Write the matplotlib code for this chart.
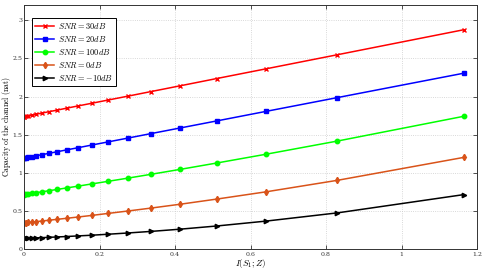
import matplotlib
matplotlib.use("Agg")
import matplotlib.pyplot as plt

plt.rcParams['mathtext.fontset'] = 'cm'
plt.rcParams['font.family'] = ['DejaVu Serif']

x_mi = [0, 0.0013, 0.0050, 0.0114, 0.0204, 0.0323, 0.0472, 0.0653, 0.0872, 0.1131,
        0.1438, 0.1801, 0.2231, 0.2745, 0.3367, 0.4133, 0.5108, 0.6411, 0.8304, 1.1643]

cap_30db = [1.736, 1.737, 1.741, 1.747, 1.756, 1.768, 1.782, 1.800, 1.821, 1.847,
            1.877, 1.912, 1.954, 2.004, 2.065, 2.140, 2.236, 2.363, 2.548, 2.875]
cap_20db = [1.192, 1.193, 1.197, 1.203, 1.212, 1.223, 1.237, 1.254, 1.275, 1.300,
            1.329, 1.364, 1.405, 1.454, 1.514, 1.587, 1.680, 1.805, 1.986, 2.305]
cap_100db = [0.714, 0.715, 0.718, 0.723, 0.729, 0.738, 0.750, 0.764, 0.781, 0.801,
             0.825, 0.854, 0.888, 0.929, 0.980, 1.044, 1.128, 1.243, 1.416, 1.740]
cap_0db = [0.343, 0.344, 0.346, 0.349, 0.353, 0.360, 0.367, 0.377, 0.389, 0.403,
           0.420, 0.441, 0.467, 0.498, 0.537, 0.587, 0.655, 0.750, 0.901, 1.201]
cap_m10db = [0.140, 0.140, 0.141, 0.142, 0.144, 0.146, 0.149, 0.153, 0.158, 0.164,
             0.172, 0.181, 0.194, 0.210, 0.231, 0.260, 0.302, 0.366, 0.474, 0.713]

labels = [r'$SNR=30dB$', r'$SNR=20dB$', r'$SNR=100dB$', r'$SNR=0dB$', r'$SNR=-10dB$']
series = [cap_30db, cap_20db, cap_100db, cap_0db, cap_m10db]
colors = ['#ff0000', '#0000ff', '#00ff00', '#d95319', '#000000']
markers = ['x', 's', 'o', 'd', '>']

x_ticks = [0, 0.2, 0.4, 0.6, 0.8, 1, 1.2]
x_ticklabels = ['0', '0.2', '0.4', '0.6', '0.8', '1', '1.2']
y_ticks = [0, 0.5, 1, 1.5, 2, 2.5, 3]
y_ticklabels = ['0', '0.5', '1', '1.5', '2', '2.5', '3']

fig = plt.figure(figsize=(4.85, 2.69), dpi=100)
ax = fig.add_axes([24 / 485, 0.0743, 453 / 485, 0.9071])

for ys, lab, c, m in zip(series, labels, colors, markers):
    ax.plot(x_mi, ys, color=c, marker=m, lw=1.1, ms=3.2, mew=1.0, label=lab)

ax.set_xlim(0, 1.2)
ax.set_ylim(0, 3.2)
ax.set_xticks(x_ticks)
ax.set_xticklabels(x_ticklabels)
ax.set_yticks(y_ticks)
ax.set_yticklabels(y_ticklabels)
ax.tick_params(direction='in', top=True, right=True, labelsize=4.5, length=3,
               width=0.6, pad=2, colors='#333333')
ax.tick_params(axis='y', pad=1)
for s in ax.spines.values():
    s.set_linewidth(0.7)
    s.set_color('#333333')
ax.grid(True, linestyle=':', color='#cccccc', lw=0.6)

ax.set_xlabel(r'$I(S_1;Z)$', fontsize=6.5, labelpad=0)
ax.set_ylabel(r'$\mathrm{Capacity\ of\ the\ channel\ (nat)}$', fontsize=5.6)
ax.yaxis.set_label_coords(-0.025, 0.5)

leg = ax.legend(loc='upper left', bbox_to_anchor=(0.018, 0.947), borderaxespad=0,
                fontsize=6, fancybox=False, framealpha=1, edgecolor='black',
                handlelength=2.2, labelspacing=0.35, borderpad=0.4, handletextpad=0.5)
leg.get_frame().set_linewidth(0.7)

fig.savefig('out.png', dpi=100)
